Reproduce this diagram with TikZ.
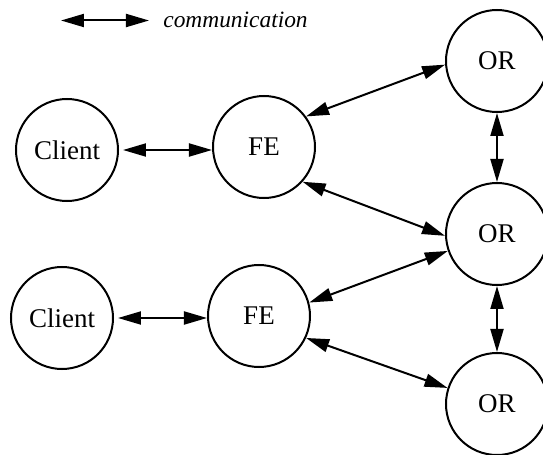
\documentclass[tikz,border=0pt]{standalone}
\usepackage{fontspec}
\setmainfont{Liberation Serif}
\usetikzlibrary{arrows.meta}
\tikzset{
  px/.style={x=0.5pt,y=-0.5pt},
  entity/.style={circle,draw,line width=1pt,minimum size=51pt,inner sep=0pt,font=\fontsize{13.5pt}{16pt}\selectfont},
  comm/.style={line width=1pt,{Triangle[length=11.5pt,width=6.5pt]}-{Triangle[length=11.5pt,width=6.5pt]}},
}
\begin{document}
\begin{tikzpicture}[px]
\path[use as bounding box,clip] (0,0) rectangle (543,455);
% legend
\coordinate (la) at (61,20.5);
\coordinate (lb) at (149,20.5);
\draw[comm] (la) -- (lb);
\node[anchor=base west,inner sep=0pt,font=\fontsize{11.7pt}{14pt}\selectfont\itshape] (lt) at (163,27) {communication};
% nodes
\node[entity] (c1) at (67,150) {Client};
\node[entity] (fe1) at (264,147) {FE};
\node[entity] (c2) at (62,318) {Client};
\node[entity] (fe2) at (259,316) {FE};
\node[entity] (or1) at (497,61) {OR};
\node[entity] (or2) at (497,234) {OR};
\node[entity] (or3) at (497,404) {OR};
% connectors
\draw[comm,shorten <=2pt] (c1.east) -- (c1.east -| fe1.west);
\draw[comm,shorten <=2pt] (c2.east) -- (c2.east -| fe2.west);
\draw[comm] (fe1.36) -- (or1.184);
\draw[comm] (fe1.-42) -- (or2.182);
\draw[comm] (fe2.15) -- (or2.199);
\draw[comm] (fe2.-25) -- (or3.162);
\draw[comm] (or1.south) -- (or2.north);
\draw[comm] (or2.south) -- (or3.north);
\end{tikzpicture}
\end{document}
